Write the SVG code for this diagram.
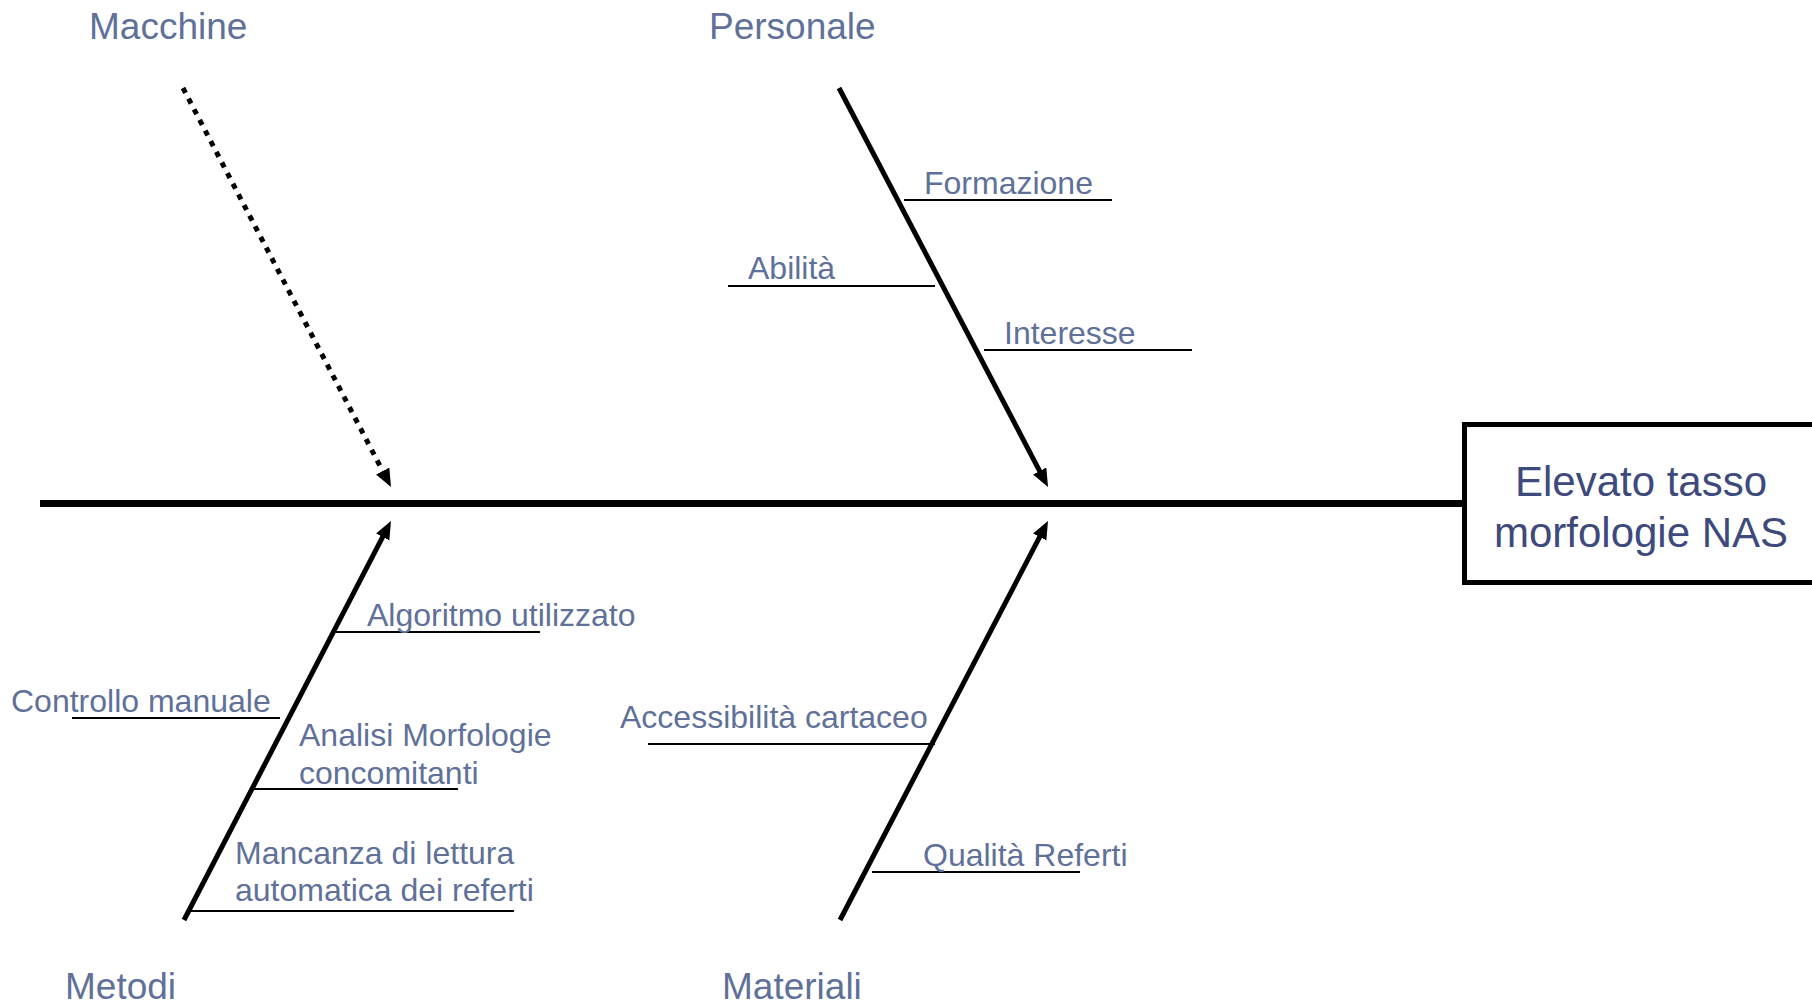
<svg xmlns="http://www.w3.org/2000/svg" width="1812" height="1004" viewBox="0 0 1812 1004">
<style>
.cat{font-family:"Liberation Sans",Arial,sans-serif;font-size:37px;fill:#5f7199}
.lbl{font-family:"Liberation Sans",Arial,sans-serif;font-size:32px;fill:#5f7199}
.eff{font-family:"Liberation Sans",Arial,sans-serif;font-size:42px;fill:#3d4a7b;text-anchor:middle}
.bone{stroke:#000;stroke-width:5;fill:none}
.sub{stroke:#000;stroke-width:2;fill:none}
</style>
<defs>
<marker id="ah" markerUnits="userSpaceOnUse" markerWidth="20" markerHeight="16" refX="2" refY="7.5" orient="auto">
<path d="M0,0 L18,7.5 L0,15 z" fill="#000"/>
</marker>
</defs>
<rect width="1812" height="1004" fill="#fff"/>
<g id="connectors">
<line x1="40" y1="503.5" x2="1464" y2="503.5" stroke="#000" stroke-width="7"/>
<line class="bone" x1="183" y1="88" x2="383.6" y2="472.8" stroke-dasharray="5.5 6.5" marker-end="url(#ah)"/>
<line class="bone" x1="839" y1="88" x2="1040.6" y2="472.8" marker-end="url(#ah)"/>
<line class="bone" x1="184" y1="920" x2="383.6" y2="535.2" marker-end="url(#ah)"/>
<line class="bone" x1="840" y1="920" x2="1040.6" y2="535.2" marker-end="url(#ah)"/>
<line class="sub" x1="904" y1="200" x2="1112" y2="200"/>
<line class="sub" x1="728" y1="286" x2="935" y2="286"/>
<line class="sub" x1="984" y1="350" x2="1192" y2="350"/>
<line class="sub" x1="336" y1="632" x2="540" y2="632"/>
<line class="sub" x1="72" y1="718" x2="280" y2="718"/>
<line class="sub" x1="254" y1="789" x2="458" y2="789"/>
<line class="sub" x1="191" y1="911" x2="514" y2="911"/>
<line class="sub" x1="648" y1="744" x2="935" y2="744"/>
<line class="sub" x1="872" y1="872" x2="1080" y2="872"/>
</g>
<g id="effect">
<rect x="1464.5" y="424.5" width="400" height="158" fill="none" stroke="#000" stroke-width="5"/>
<text class="eff" x="1641" y="496">Elevato tasso</text>
<text class="eff" x="1641" y="547">morfologie NAS</text>
</g>
<g id="macchine"><text class="cat" x="89" y="39">Macchine</text></g>
<g id="personale">
<text class="cat" x="709" y="39">Personale</text>
<text class="lbl" x="924" y="194">Formazione</text>
<text class="lbl" x="748" y="279">Abilità</text>
<text class="lbl" x="1004" y="344">Interesse</text>
</g>
<g id="metodi">
<text class="cat" x="65" y="999">Metodi</text>
<text class="lbl" x="367" y="626">Algoritmo utilizzato</text>
<text class="lbl" x="11" y="712">Controllo manuale</text>
<text class="lbl" x="299" y="746">Analisi Morfologie</text>
<text class="lbl" x="299" y="784">concomitanti</text>
<text class="lbl" x="235" y="864">Mancanza di lettura</text>
<text class="lbl" x="235" y="901">automatica dei referti</text>
</g>
<g id="materiali">
<text class="cat" x="722" y="999">Materiali</text>
<text class="lbl" x="620" y="728">Accessibilità cartaceo</text>
<text class="lbl" x="923" y="866">Qualità Referti</text>
</g>
</svg>
